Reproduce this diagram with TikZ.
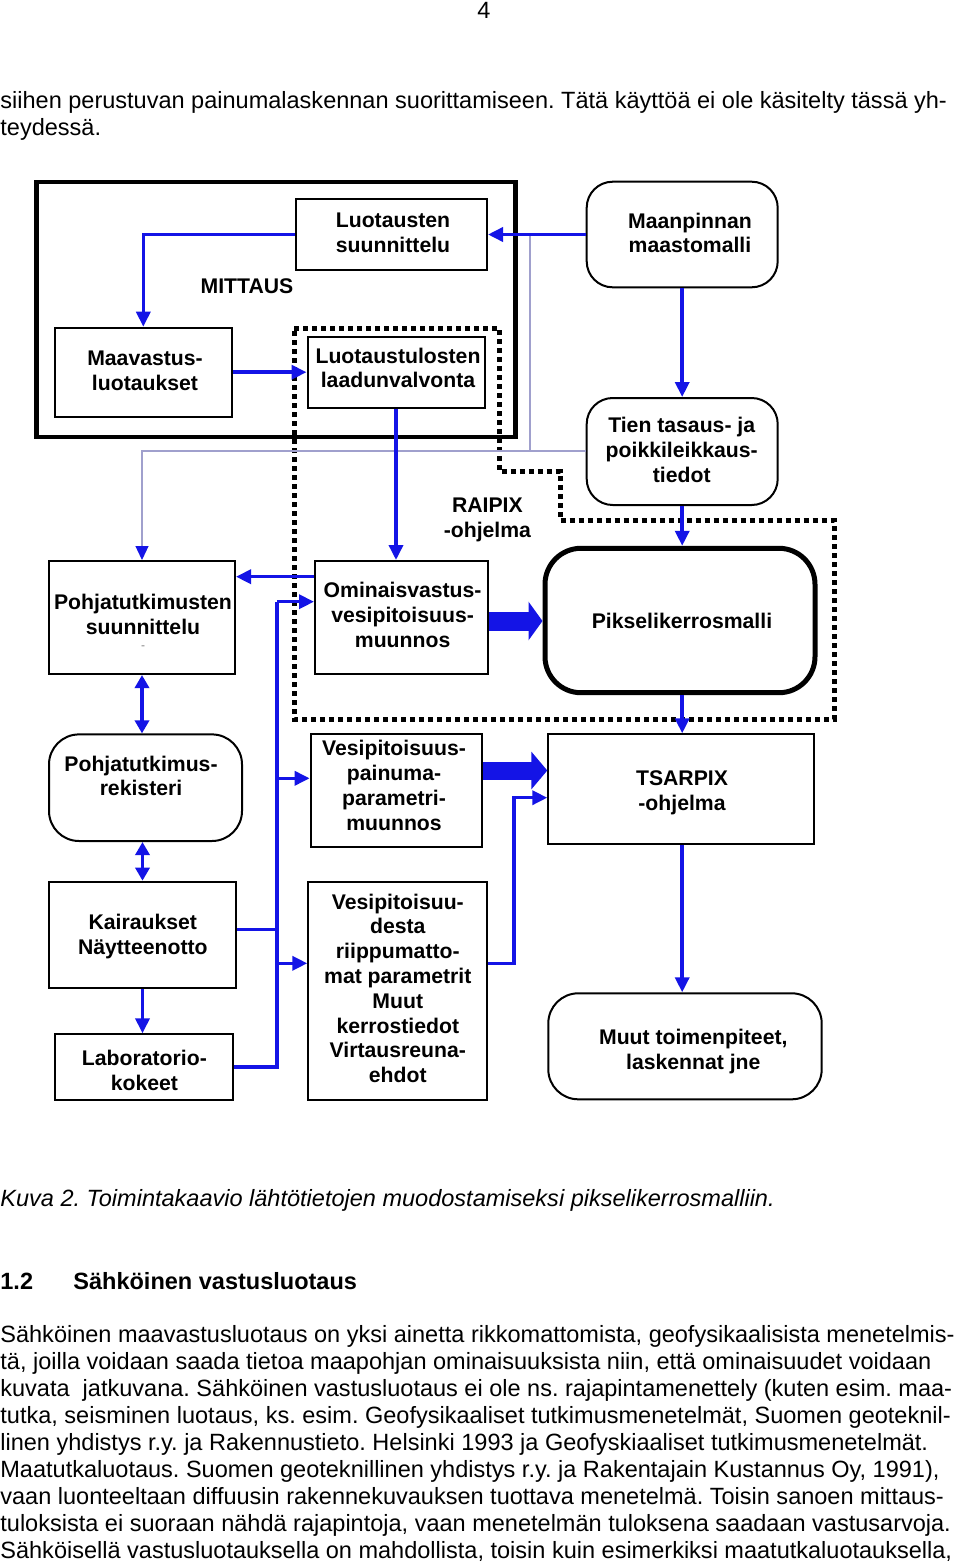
\documentclass[tikz,border=0pt]{standalone}
\usepackage{fontspec}
\setmainfont{Liberation Sans}
\usetikzlibrary{arrows.meta,calc}
\definecolor{bl}{RGB}{20,20,230}
\definecolor{gl}{RGB}{160,160,205}
\frenchspacing
\begin{document}
\begin{tikzpicture}[x=0.5pt,y=-0.5pt,
 box/.style={draw=black,line width=1pt,inner sep=0pt},
 rbox/.style={box,rounded corners=13pt},
 lbl/.style={font=\bfseries\fontsize{10.6}{12.4}\selectfont,align=center,inner sep=0pt},
 body/.style={font=\fontsize{11.76}{13.5}\selectfont,inner sep=0pt,anchor=base west},
 conn/.style={draw=bl,line width=1.75pt,-{Triangle[length=7.5pt,width=7pt]}},
 both/.style={draw=bl,line width=1.75pt,{Triangle[length=6.5pt,width=7pt]}-{Triangle[length=6.5pt,width=7pt]}},
 plain/.style={draw=bl,line width=1.75pt},
 fat/.style={draw=bl,line width=9.5pt,-{Triangle[length=7pt,width=19pt]}},
 thinl/.style={draw=gl,line width=0.6pt},
 dots/.style={draw=black,line width=2.5pt,dash pattern=on 2.5pt off 2pt}
]
\fill[white] (0,0) rectangle (960,1563);
\useasboundingbox (0,0) rectangle (960,1563);

% page text
\node[body,anchor=base] (pg) at (484,18.5) {4};
\node[body] (t1) at (0,108) {siihen perustuvan painumalaskennan suorittamiseen. Tätä käyttöä ei ole käsitelty tässä yh-};
\node[body] (t2) at (0,135) {teydessä.};

% boxes
\node[box,line width=2.2pt,minimum width=239.6pt,minimum height=127.5pt] (mitt) at (275.9,309.2) {};
\node[box,minimum width=95.5pt,minimum height=35.5pt] (luots) at (391.5,234.5) {};
\node[rbox,minimum width=95.5pt,minimum height=52.8pt] (maanp) at (682.2,234.5) {};
\node[box,minimum width=88.5pt,minimum height=44.5pt] (maav) at (143.3,372.2) {};
\node[box,minimum width=88.5pt,minimum height=35.5pt] (laad) at (396,372.2) {};
\node[rbox,minimum width=95.5pt,minimum height=53.5pt] (tien) at (682.2,451.5) {};
\node[box,minimum width=93pt,minimum height=56.5pt] (pohjs) at (142,617.5) {};
\node[box,minimum width=86.5pt,minimum height=56.5pt] (omin) at (401.5,617.5) {};
\node[box,line width=2.5pt,rounded corners=18pt,minimum width=135pt,minimum height=72.2pt] (piks) at (680,620.5) {};
\node[rbox,rounded corners=15pt,minimum width=96.5pt,minimum height=53.3pt] (rek) at (145.5,787.7) {};
\node[box,minimum width=85.75pt,minimum height=56.2pt] (vp) at (396.4,790.5) {};
\node[box,minimum width=133pt,minimum height=55pt] (tsar) at (681.3,789.3) {};
\node[box,minimum width=93.5pt,minimum height=53.3pt] (kair) at (142.5,935) {};
\node[box,minimum width=89.5pt,minimum height=108.9pt] (vd) at (397.8,991.2) {};
\node[box,minimum width=88.9pt,minimum height=32.9pt] (lab) at (143.7,1067.2) {};
\node[rbox,rounded corners=15pt,minimum width=136.7pt,minimum height=53pt] (muut) at (685,1046.3) {};

% labels
\node[lbl] (tluots) at (393,233) {Luotausten\\suunnittelu};
\node[lbl] (tmaanp) at (690,233) {Maanpinnan\\maastomalli};
\node[lbl] (tmitt) at (247,285.7) {MITTAUS};
\node[lbl] (tmaav) at (145,370.5) {Maavastus-\\luotaukset};
\node[lbl] (tlaad) at (398,368) {Luotaustulosten\\laadunvalvonta};
\node[lbl] (ttien) at (681.7,450) {Tien tasaus- ja\\poikkileikkaus-\\tiedot};
\node[lbl] (traip) at (487.4,519.5) {RAIPIX\\-ohjelma};
\node[lbl] (tpohjs) at (143,614.7) {Pohjatutkimusten\\suunnittelu};
\node[font=\fontsize{6}{6}\selectfont,text=gray,inner sep=0pt] (tpd) at (143,648) {-};
\node[lbl] (tomin) at (402.6,615) {Ominaisvastus-\\vesipitoisuus-\\muunnos};
\node[lbl] (tpiks) at (682,620.7) {Pikselikerrosmalli};
\node[lbl] (trek) at (141,776) {Pohjatutkimus-\\rekisteri};
\node[lbl] (tvp) at (394,785.5) {Vesipitoisuus-\\painuma-\\parametri-\\muunnos};
\node[lbl] (ttsar) at (682,793) {TSARPIX\\-ohjelma};
\node[lbl] (tkair) at (142.8,936.7) {Kairaukset\\Näytteenotto};
\node[lbl] (tvd) at (397.8,988.3) {Vesipitoisuu-\\desta\\riippumatto-\\mat parametrit\\Muut\\kerrostiedot\\Virtausreuna-\\ehdot};
\node[lbl] (tlab) at (144.4,1070.5) {Laboratorio-\\kokeet};
\node[lbl] (tmuut) at (693.3,1051.3) {Muut toimenpiteet,\\laskennat jne};

% dotted RAIPIX boundary
\coordinate (d1) at (294,328.3);
\coordinate (d2) at (499,328.3);
\coordinate (d3) at (499,471.7);
\coordinate (d4) at (560,471.7);
\coordinate (d5) at (560,520.7);
\coordinate (d6) at (834,520.7);
\coordinate (d7) at (834,719);
\coordinate (d8) at (294,719);
\draw[dots] (d1) -- (d2) -- (d3) -- (d4) -- (d5) -- (d6) -- (d7) -- (d8) -- cycle;

% thin grey connector
\coordinate (gx) at (530,451);
\draw[thinl] (gx |- luots.east) -- (gx) -- (gx -| tien.west);
\draw[thinl,-{Triangle[length=7pt,width=6.5pt,color=bl]}] (gx) -| (pohjs.north);

% blue connectors
\draw[conn] (maanp.west) -- (luots.east);
\draw[conn] (luots.west) -| (maav.north);
\draw[conn] (maav.east) -- (laad.west);
\draw[conn] (laad.south) -- (laad.south |- omin.north);
\draw[conn] (maanp.south) -- (tien.north);
\draw[conn] (tien.south) -- (tien.south |- piks.north);
\draw[conn] (tien.south |- piks.south) -- (tien.south |- tsar.north);
\draw[conn] (tien.south |- tsar.south) -- (tien.south |- muut.north);
\draw[conn] ([yshift=20.4pt]omin.west) -- ([yshift=20.4pt]omin.west -| pohjs.east);

\coordinate (bt) at (277,601.7);
\coordinate (b2) at (277,778.3);
\coordinate (b3) at (277,963.3);
\draw[plain] (lab.east) -| (bt);
\draw[plain] ([yshift=2.8pt]kair.east) -- ([yshift=2.8pt]kair.east -| bt);
\draw[conn] (bt) -- (bt -| omin.west);
\draw[conn] (b2) -- (b2 -| vp.west);
\draw[conn] (b3) -- (b3 -| vd.west);

\coordinate (tj) at (513.8,797.7);
\draw[conn] (b3 -| vd.east) -| (tj) -- (tj -| tsar.west);

\draw[both] (pohjs.south) -- (pohjs.south |- rek.north);
\draw[both] (kair.north |- rek.south) -- (kair.north);
\draw[conn] (kair.south) -- (kair.south |- lab.north);

\draw[fat] ([yshift=-1.75pt]omin.east) -- ([yshift=-1.75pt]omin.east -| piks.west);
\draw[draw=bl,line width=9pt,-{Triangle[length=8pt,width=18.5pt]}] ([yshift=10pt]vp.east) -- ([yshift=10pt]vp.east -| tsar.west);

% caption, heading, body
\node[body,font=\itshape\fontsize{11.76}{13.5}\selectfont] (cap) at (0,1206) {Kuva 2. Toimintakaavio lähtötietojen muodostamiseksi pikselikerrosmalliin.};
\node[body,font=\bfseries\fontsize{11.76}{13.5}\selectfont] (h1) at (0,1289) {1.2};
\node[body,font=\bfseries\fontsize{11.76}{13.5}\selectfont] (h2) at (73,1289) {Sähköinen vastusluotaus};
\node[body] (b1) at (0,1342) {Sähköinen maavastusluotaus on yksi ainetta rikkomattomista, geofysikaalisista menetelmis-};
\node[body] (bb2) at (0,1369.1) {tä, joilla voidaan saada tietoa maapohjan ominaisuuksista niin, että ominaisuudet voidaan};
\node[body] (bb3) at (0,1396.2) {kuvata~ jatkuvana. Sähköinen vastusluotaus ei ole ns. rajapintamenettely (kuten esim. maa-};
\node[body] (bb4) at (0,1423.3) {tutka, seisminen luotaus, ks. esim. Geofysikaaliset tutkimusmenetelmät, Suomen geoteknil-};
\node[body] (bb5) at (0,1450.4) {linen yhdistys r.y. ja Rakennustieto. Helsinki 1993 ja Geofyskiaaliset tutkimusmenetelmät.};
\node[body] (bb6) at (0,1477.5) {Maatutkaluotaus. Suomen geoteknillinen yhdistys r.y. ja Rakentajain Kustannus Oy, 1991),};
\node[body] (bb7) at (0,1504.6) {vaan luonteeltaan diffuusin rakennekuvauksen tuottava menetelmä. Toisin sanoen mittaus-};
\node[body] (bb8) at (0,1531.7) {tuloksista ei suoraan nähdä rajapintoja, vaan menetelmän tuloksena saadaan vastusarvoja.};
\node[body] (bb9) at (0,1558.8) {Sähköisellä vastusluotauksella on mahdollista, toisin kuin esimerkiksi maatutkaluotauksella,};
\end{tikzpicture}
\end{document}
